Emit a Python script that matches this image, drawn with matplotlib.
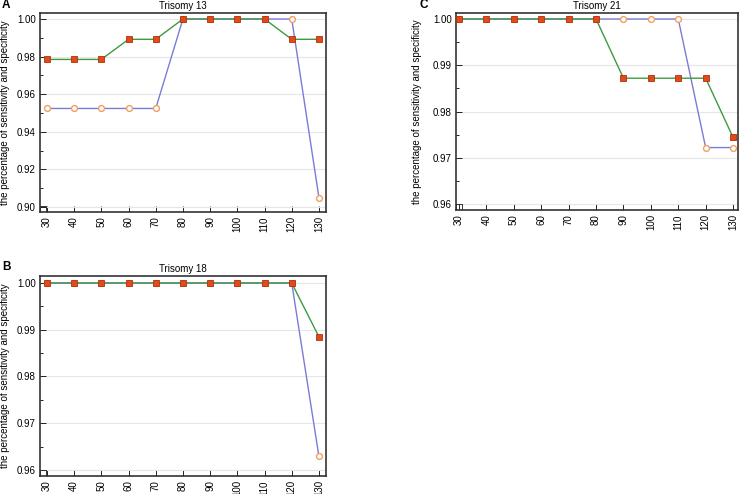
import matplotlib
matplotlib.use("Agg")
import matplotlib.pyplot as plt
from matplotlib.ticker import MultipleLocator, FormatStrFormatter
from matplotlib.patches import Rectangle

plt.rcParams['font.family'] = ['Liberation Sans', 'DejaVu Sans']

x_vals = [30, 40, 50, 60, 70, 80, 90, 100, 110, 120, 130]
x_labels = [str(v) for v in x_vals]

t13_green = [0.9785, 0.9785, 0.9785, 0.9892, 0.9892, 1.0, 1.0, 1.0, 1.0, 0.9892, 0.9892]
t13_blue = [0.9524, 0.9524, 0.9524, 0.9524, 0.9524, 1.0, 1.0, 1.0, 1.0, 1.0, 0.905]

t18_green = [1.0, 1.0, 1.0, 1.0, 1.0, 1.0, 1.0, 1.0, 1.0, 1.0, 0.9885]
t18_blue = [1.0, 1.0, 1.0, 1.0, 1.0, 1.0, 1.0, 1.0, 1.0, 1.0, 0.9629]

t21_green = [1.0, 1.0, 1.0, 1.0, 1.0, 1.0, 0.9872, 0.9872, 0.9872, 0.9872, 0.9744]
t21_blue = [1.0, 1.0, 1.0, 1.0, 1.0, 1.0, 1.0, 1.0, 1.0, 0.9722, 0.9722]

W, H = 740, 494
fig = plt.figure(figsize=(W / 100, H / 100), dpi=100)

def axes_px(l, t, r, b):
    return fig.add_axes([l / W, 1 - b / H, (r - l) / W, (b - t) / H])

ylabel = "the percentage of sensitivity and specificity"

def draw(ax, green, blue, title, xlim, ylim, major, minor, letter, lx, ly, ylx):
    ax.plot(x_vals, blue, color="#7b7bd6", lw=1.0, zorder=2,
            marker="o", ms=4.2, mfc="white", mec="#f0a060", mew=1.0)
    ax.plot(x_vals, green, color="#3f9a3f", lw=1.0, zorder=3,
            marker="s", ms=4.2, mfc="#e24a1a", mec="#b03010", mew=0.6)
    ax.set_xlim(*xlim)
    ax.set_ylim(*ylim)
    ax.set_xticks(x_vals)
    ax.set_xticklabels(x_labels, rotation=90, fontsize=7)
    ax.yaxis.set_major_locator(MultipleLocator(major))
    ax.yaxis.set_minor_locator(MultipleLocator(minor))
    ax.yaxis.set_major_formatter(FormatStrFormatter("%.2f"))
    ax.tick_params(axis="y", labelsize=7, direction="in", length=4, width=0.6, pad=3)
    ax.tick_params(axis="y", which="minor", direction="in", length=2.5, width=0.6)
    ax.tick_params(axis="x", direction="in", length=4, width=0.6, pad=3)
    ax.grid(axis="y", which="major", color="#e6e6e6", lw=0.8, zorder=0)
    ax.set_axisbelow(True)
    for s in ax.spines.values():
        s.set_linewidth(1.2)
        s.set_color("#333333")
    ax.add_patch(Rectangle((0, 0), 0.02, 0.03, transform=ax.transAxes,
                           fill=False, edgecolor="#333333", lw=0.7, zorder=4))
    ax.set_title(title, fontsize=7, pad=3)
    ax.set_ylabel(ylabel, fontsize=7)
    ax.yaxis.set_label_coords(ylx, 0.5)
    fig.text(lx / W, 1 - ly / H, letter, fontsize=8.5, fontweight="bold",
             ha="left", va="center")

axA = axes_px(40, 13, 326, 212)
draw(axA, t13_green, t13_blue, "Trisomy 13", (27.45, 132.6), (0.8973, 1.0032),
     0.02, 0.01, "A", 2, 5, -0.105)

axB = axes_px(40, 276, 326, 476)
draw(axB, t18_green, t18_blue, "Trisomy 18", (27.45, 132.6), (0.9587, 1.0015),
     0.01, 0.005, "B", 2, 267, -0.105)

axC = axes_px(456, 13, 738, 210)
draw(axC, t21_green, t21_blue, "Trisomy 21", (28.9, 131.8), (0.9587, 1.0013),
     0.01, 0.005, "C", 419, 5, -0.12)

fig.savefig("out.png", dpi=100)
